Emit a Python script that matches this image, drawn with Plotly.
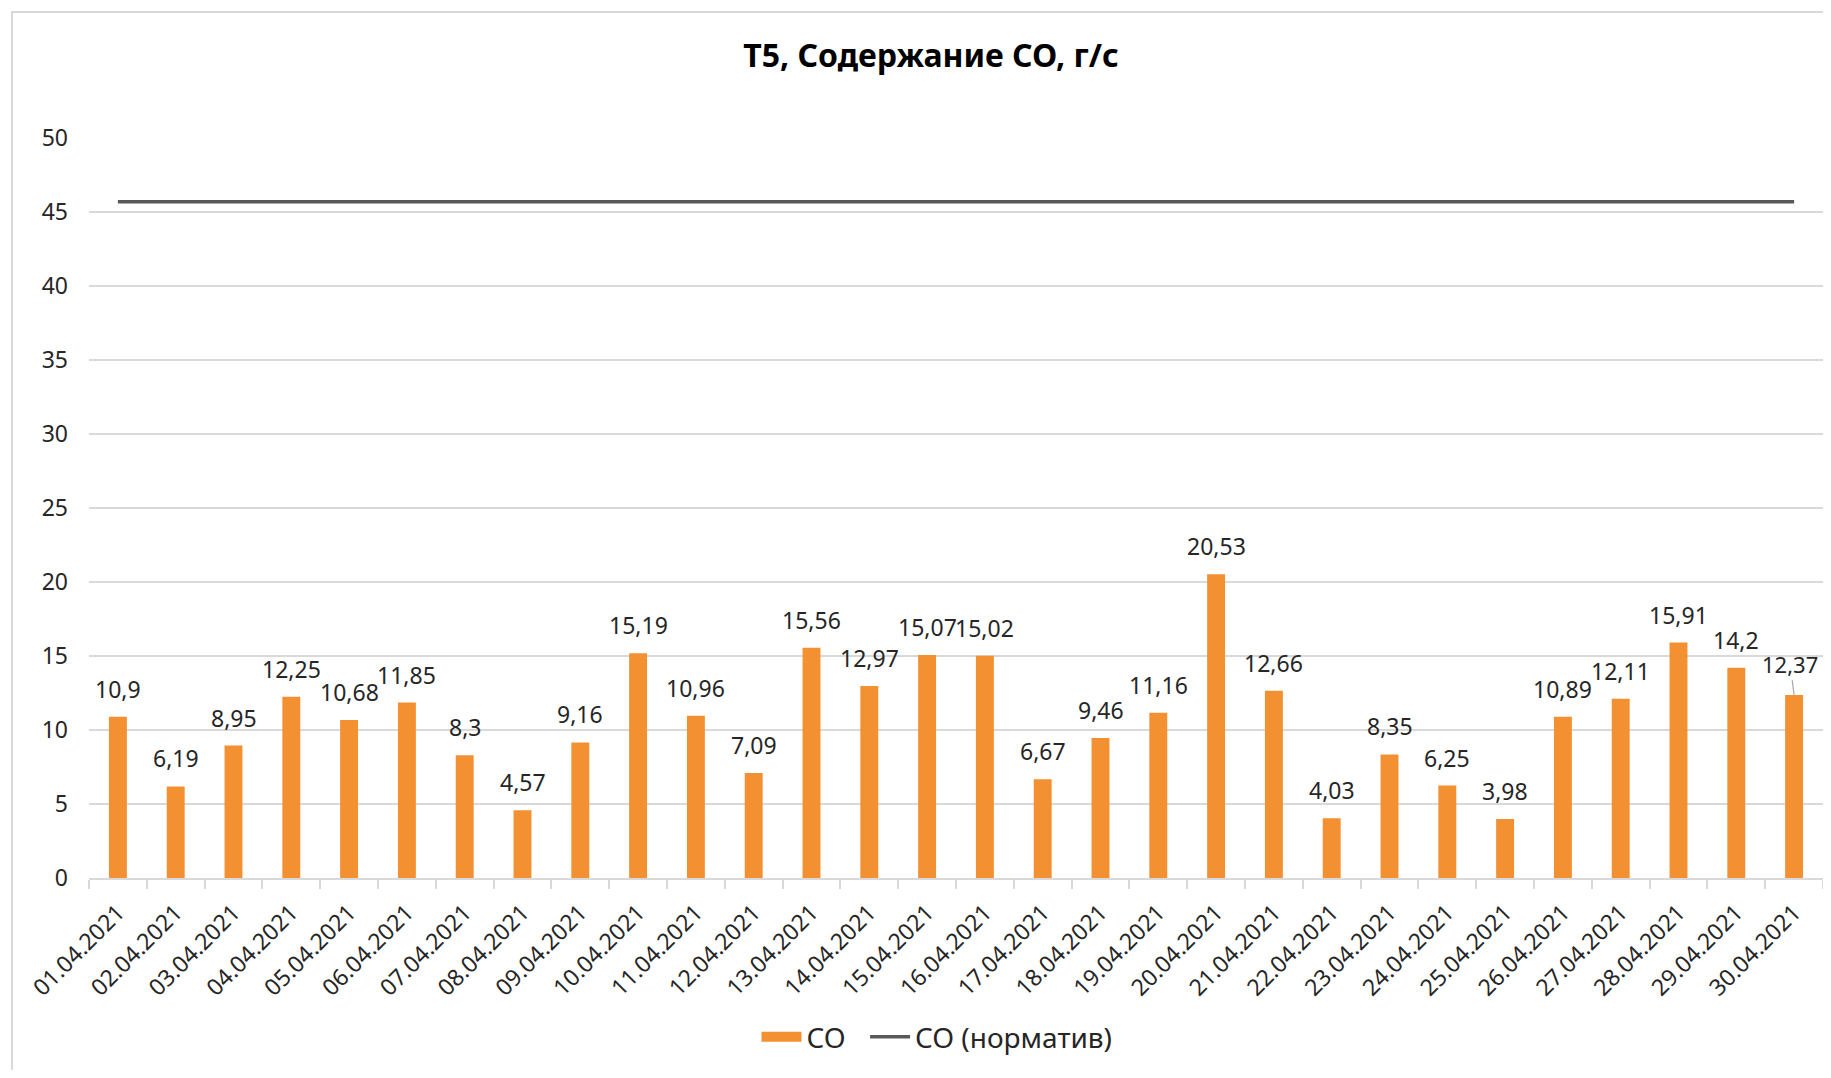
import plotly.graph_objects as go

dates = ["01.04.2021", "02.04.2021", "03.04.2021", "04.04.2021", "05.04.2021",
         "06.04.2021", "07.04.2021", "08.04.2021", "09.04.2021", "10.04.2021",
         "11.04.2021", "12.04.2021", "13.04.2021", "14.04.2021", "15.04.2021",
         "16.04.2021", "17.04.2021", "18.04.2021", "19.04.2021", "20.04.2021",
         "21.04.2021", "22.04.2021", "23.04.2021", "24.04.2021", "25.04.2021",
         "26.04.2021", "27.04.2021", "28.04.2021", "29.04.2021", "30.04.2021"]
co_values = [10.9, 6.19, 8.95, 12.25, 10.68, 11.85, 8.3, 4.57, 9.16, 15.19,
             10.96, 7.09, 15.56, 12.97, 15.07, 15.02, 6.67, 9.46, 11.16, 20.53,
             12.66, 4.03, 8.35, 6.25, 3.98, 10.89, 12.11, 15.91, 14.2, 12.37]
norm_value = 45.7
norm_values = [norm_value] * len(dates)
y_ticks = [0, 5, 10, 15, 20, 25, 30, 35, 40, 45, 50]

FONT = "Noto Sans"
TXT = "#262626"
GRID = "#d9d9d9"
ORANGE = "#F39032"
OFF = 8  # default page body margin
W, H = 1831 - 2 * OFF, 1078 - 2 * OFF
L, R, T = 89 - OFF, 0, 138 - OFF
B = H - (878 - OFF)

fig = go.Figure()
fig.add_trace(go.Bar(x=dates, y=co_values, name="CO", showlegend=False,
                     marker=dict(color=ORANGE, line=dict(width=0))))
fig.add_trace(go.Scatter(x=[None], y=[None], name="CO\u00a0\u00a0", mode="lines",
                         line=dict(color=ORANGE, width=19)))
fig.add_trace(go.Scatter(x=dates, y=norm_values, name="CO (норматив)", mode="lines",
                         line=dict(color="#595959", width=3.5)))

def fmt(v):
    return f"{v:g}".replace(".", ",")

n = len(dates)
for i, (d, v) in enumerate(zip(dates, co_values)):
    if i == n - 1:
        fig.add_annotation(x=d, y=v, text=fmt(v), showarrow=True, arrowhead=0,
                           arrowcolor="#a6a6a6", arrowwidth=1.2, ax=-4, ay=-31,
                           font=dict(family=FONT, size=22, color=TXT))
    else:
        fig.add_annotation(x=d, y=v, text=fmt(v), showarrow=False, yanchor="bottom",
                           yshift=10, font=dict(family=FONT, size=23, color=TXT))

pw = W - L - R
ph = H - T - B
# chart-area border (Excel style), cropped on right/bottom
bx0 = 12 - OFF
by0 = 12 - OFF
fig.add_shape(type="rect", xref="paper", yref="paper",
              x0=(bx0 - L) / pw, x1=(W + 20 - L) / pw,
              y0=-(H + 20 - T - ph) / ph, y1=(T - by0 + ph) / ph,
              line=dict(color=GRID, width=2), fillcolor="rgba(0,0,0,0)", layer="below")

fig.update_layout(
    width=W, height=H,
    margin=dict(l=L, r=R, t=T, b=B, pad=0, autoexpand=False),
    paper_bgcolor="white", plot_bgcolor="white",
    bargap=0.69,
    title=dict(text="<b>T5, Содержание CO, г/с</b>", x=(931 - OFF) / W, xanchor="center",
               y=1 - (56 - OFF) / H, yanchor="middle",
               font=dict(family=FONT, size=32, color="#000000")),
    font=dict(family=FONT, size=22, color=TXT),
    legend=dict(orientation="h", x=(937 - OFF - L) / pw, xanchor="center",
                y=-(1037 - 878) / ph, yanchor="middle",
                font=dict(family=FONT, size=28, color=TXT), itemwidth=40,
                bgcolor="rgba(0,0,0,0)"),
    showlegend=True,
)
fig.update_xaxes(type="category", range=[-0.5, len(dates) - 0.5], autorange=False,
                 tickangle=-45, tickson="boundaries", ticks="outside",
                 ticklen=9, tickwidth=2, tickcolor=GRID, showline=True, linecolor=GRID,
                 linewidth=2, showgrid=False, ticklabelstandoff=10,
                 tickfont=dict(family=FONT, size=23, color=TXT))
fig.update_yaxes(range=[0, 50], autorange=False, tickvals=y_ticks, showgrid=True,
                 gridcolor=GRID, gridwidth=2,
                 zeroline=False, showline=False, ticks="", ticklabelstandoff=20,
                 tickfont=dict(family=FONT, size=23, color=TXT))

fig.write_html("out.html")
